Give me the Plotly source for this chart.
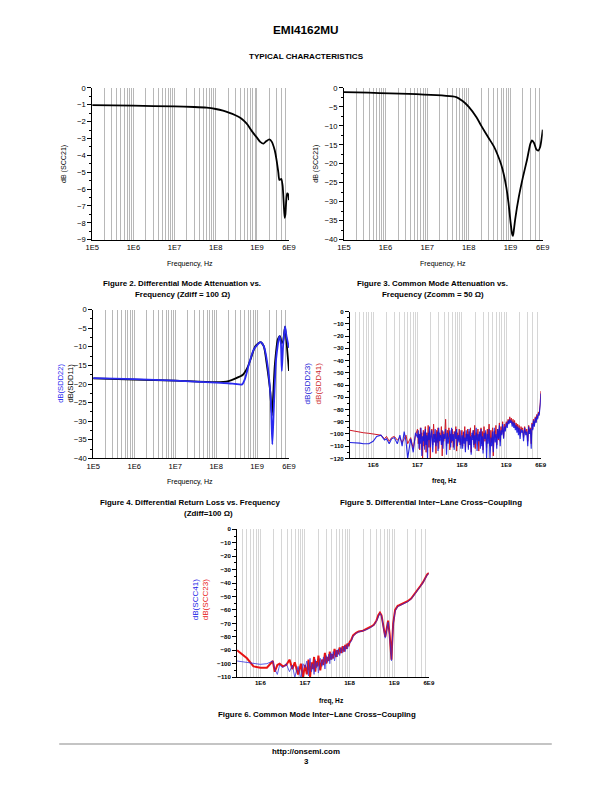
import plotly.graph_objects as go

W, H = 612, 792
# the photographed page comes out very slightly shrunk about its centre; compensate
SX, SY = 0.978, 0.99
CX, CY = 306, 396

# ---------------- data ----------------
f2_freq = [1e5, 1e6, 1e7, 3e7, 6e7, 1e8, 1.5e8, 2e8, 3e8, 4e8, 5e8, 6e8, 7e8, 8e8, 1e9,
           1.2e9, 1.45e9, 1.7e9, 2.0e9, 2.3e9, 2.7e9, 3.0e9, 3.3e9, 3.5e9, 3.9e9, 4.2e9,
           4.5e9, 4.7e9, 4.9e9, 5.1e9, 5.4e9, 5.7e9, 6e9]
f2_scc21 = [-1.02, -1.05, -1.1, -1.13, -1.17, -1.25, -1.35, -1.45, -1.62, -1.78, -1.98, -2.2,
            -2.45, -2.65, -2.95, -3.2, -3.3, -3.15, -3.05, -3.2, -3.7, -4.3, -5.0, -5.45,
            -5.4, -5.8, -7.0, -7.7, -7.5, -6.8, -6.25, -6.3, -6.65]

f3_freq = [1e5, 5e7, 7e7, 1e8, 1.5e8, 2e8, 3e8, 4e8, 5e8, 6e8, 7e8, 8e8, 9e8, 1e9, 1.1e9,
           1.15e9, 1.2e9, 1.3e9, 1.6e9, 2.0e9, 2.5e9, 3.0e9, 3.3e9, 3.7e9, 4.2e9, 4.7e9,
           5.2e9, 5.6e9, 6e9]
f3_scc21 = [-1.1, -2.4, -3.4, -5.0, -7.6, -10.0, -13.2, -15.4, -17.8, -20.2, -23.0, -26.3,
            -30.3, -35.0, -38.5, -39.0, -37.8, -34.7, -28.6, -23.5, -19.0, -14.8, -13.8,
            -14.5, -16.2, -16.5, -15.5, -13.5, -11.0]

f4_freq_11 = [1e5, 1e6, 1e7, 1e8, 2e8, 3e8, 4.5e8, 5.8e8, 6.9e8, 9.1e8, 1.2e9, 1.45e9, 1.7e9,
              2.1e9, 2.3e9, 2.7e9, 3.2e9, 3.6e9, 4.0e9, 4.3e9, 4.8e9, 5.4e9, 6e9]
f4_sdd11 = [-18.5, -18.8, -19.1, -19.5, -19.2, -18.5, -17.5, -15.6, -13.4, -9.8, -8.75, -9.8,
            -14.3, -22.3, -28.5, -15.0, -8.0, -7.1, -9.0, -8.5, -4.6, -10.7, -16.5]
f4_freq_22 = [1e5, 1e6, 1e7, 1e8, 2e8, 3e8, 4.3e8, 5e8, 6.3e8, 8.3e8, 1.2e9, 1.45e9, 1.75e9,
              2.15e9, 2.35e9, 2.55e9, 2.9e9, 3.5e9, 3.8e9, 4.0e9, 4.3e9, 4.8e9, 5.2e9, 6e9]
f4_sdd22 = [-18.4, -18.7, -19.1, -19.6, -19.8, -20.0, -20.1, -18.75, -14.7, -10.7, -8.75,
            -9.8, -14.0, -24.0, -36.2, -26.8, -13.4, -7.1, -9.0, -16.5, -9.8, -4.5, -7.1, -10.3]

f5_freq = [3e5, 4e5, 5e5, 6e5, 8e5, 1e6, 1.2e6, 1.5e6, 1.8e6, 2e6, 2.3e6, 2.6e6, 3e6, 3.5e6,
           4e6, 4.5e6, 5e6, 5.5e6, 6e6, 7e6, 8e6, 9e6,
           1.0e7, 1.04e7, 1.08e7, 1.12e7, 1.16e7, 1.2e7, 1.25e7, 1.3e7, 1.35e7, 1.4e7,
           1.45e7, 1.5e7, 1.56e7, 1.62e7, 1.68e7, 1.74e7, 1.8e7, 1.87e7, 1.94e7, 2.0e7,
           2.1e7, 2.2e7, 2.3e7, 2.4e7, 2.5e7, 2.6e7, 2.7e7, 2.8e7, 2.9e7, 3.0e7,
           3.15e7, 3.3e7, 3.45e7, 3.6e7, 3.75e7, 3.9e7, 4.1e7, 4.3e7, 4.5e7, 4.7e7,
           4.9e7, 5.1e7, 5.35e7, 5.6e7, 5.85e7, 6.1e7, 6.4e7, 6.7e7, 7.0e7, 7.3e7,
           7.6e7, 7.9e7, 8.3e7, 8.7e7, 9.1e7, 9.5e7,
           1.0e8, 1.04e8, 1.08e8, 1.12e8, 1.16e8, 1.2e8, 1.25e8, 1.3e8, 1.35e8, 1.4e8,
           1.45e8, 1.5e8, 1.56e8, 1.62e8, 1.68e8, 1.74e8, 1.8e8, 1.87e8, 1.94e8, 2.0e8,
           2.1e8, 2.2e8, 2.3e8, 2.4e8, 2.5e8, 2.6e8, 2.7e8, 2.8e8, 2.9e8, 3.0e8,
           3.15e8, 3.3e8, 3.45e8, 3.6e8, 3.75e8, 3.9e8, 4.1e8, 4.3e8, 4.5e8, 4.7e8,
           4.9e8, 5.1e8, 5.35e8, 5.6e8, 5.85e8, 6.1e8, 6.4e8, 6.7e8, 7.0e8, 7.3e8,
           7.6e8, 7.9e8, 8.3e8, 8.7e8, 9.1e8, 9.5e8,
           1.0e9, 1.05e9, 1.1e9, 1.15e9, 1.2e9, 1.25e9, 1.3e9, 1.36e9, 1.42e9, 1.48e9,
           1.54e9, 1.6e9, 1.67e9, 1.74e9, 1.81e9, 1.88e9, 1.95e9, 2.05e9, 2.15e9, 2.25e9,
           2.35e9, 2.45e9, 2.6e9, 2.75e9, 2.9e9, 3.05e9, 3.2e9, 3.35e9, 3.5e9, 3.65e9,
           3.8e9, 3.95e9, 4.1e9, 4.3e9, 4.5e9, 4.7e9, 4.9e9, 5.1e9, 5.3e9, 5.5e9,
           5.7e9, 5.85e9, 6.0e9]
f5_sdd41 = [-97, -98, -98.5, -99, -99.5, -100, -100.5, -101, -104, -102, -106, -103, -102, -105,
            -103, -107, -104, -101, -108, -103, -112, -101,
            -96, -108, -100, -113, -95, -104, -99, -120, -97, -110,
            -102, -94, -115, -99, -106, -93, -111, -98, -120, -101,
            -96, -109, -92, -104, -100, -116, -97, -107, -95, -112,
            -99, -103, -94, -118, -98, -106, -101, -88, -110, -97,
            -104, -95, -113, -100, -107, -96, -111, -98, -103, -94,
            -114, -99, -105, -96, -109, -101,
            -97, -110, -99, -106, -94, -113, -100, -104, -96, -111,
            -98, -107, -95, -115, -101, -103, -97, -109, -93, -112,
            -99, -105, -96, -114, -100, -102, -95, -108, -98, -113,
            -94, -106, -99, -111, -96, -104, -92, -110, -97, -107,
            -95, -118, -98, -103, -93, -109, -96, -105, -91, -106,
            -94, -100, -90, -103, -92, -97,
            -90, -93, -88, -91, -86, -90, -87, -92, -88, -93,
            -89, -95, -91, -96, -92, -98, -93, -100, -94, -97,
            -95, -103, -94, -99, -96, -106, -93, -98, -95, -108,
            -91, -96, -88, -93, -86, -90, -84, -87, -82, -84,
            -79, -74, -65]
f5_sdd23 = [-107, -107, -107.5, -108, -108, -106, -102, -101, -105, -104, -108, -104, -103, -108,
            -101, -110, -98, -106, -120, -104, -115, -99,
            -103, -97, -112, -100, -108, -95, -118, -102, -106, -98,
            -113, -96, -109, -101, -120, -99, -105, -94, -111, -103,
            -97, -115, -100, -107, -96, -110, -102, -98, -114, -95,
            -106, -101, -109, -97, -112, -100, -104, -96, -117, -99,
            -108, -102, -97, -111, -95, -106, -100, -113, -98, -104,
            -96, -110, -101, -107, -97, -112,
            -101, -112, -98, -108, -103, -115, -97, -106, -100, -113,
            -96, -109, -102, -117, -99, -105, -97, -111, -101, -108,
            -95, -114, -100, -106, -98, -112, -96, -110, -102, -116,
            -99, -104, -97, -120, -100, -108, -96, -120, -103, -110,
            -98, -115, -95, -107, -100, -112, -96, -104, -93, -110,
            -97, -101, -92, -104, -94, -98,
            -91, -95, -89, -92, -88, -91, -89, -94, -90, -95,
            -91, -97, -93, -99, -94, -101, -95, -104, -96, -99,
            -97, -106, -95, -101, -98, -110, -94, -100, -96, -112,
            -92, -97, -89, -94, -87, -91, -85, -88, -83, -85,
            -80, -76, -67]

f6_freq = [3e5, 5e5, 7e5, 1e6, 1.4e6, 1.7e6, 1.9e6, 2.1e6, 2.4e6, 2.7e6, 3.2e6, 3.8e6, 4.5e6,
           5.2e6, 5.9e6, 7e6, 8.1e6, 9e6,
           1.0e7, 1.1e7, 1.2e7, 1.3e7, 1.4e7, 1.5e7, 1.6e7, 1.7e7, 1.8e7, 1.9e7, 2.0e7, 2.2e7,
           2.4e7, 2.6e7, 2.8e7, 3.0e7, 3.2e7, 3.4e7, 3.6e7, 3.8e7, 4.0e7, 4.3e7, 4.6e7, 5.0e7,
           5.3e7, 5.6e7, 6.0e7, 6.5e7, 7.0e7, 7.5e7, 8.0e7, 8.5e7, 9.0e7, 9.5e7,
           1.0e8, 1.1e8, 1.2e8, 1.4e8, 1.6e8, 2e8, 2.5e8, 3e8, 3.5e8, 4e8, 4.4e8, 4.8e8, 5.2e8,
           5.7e8, 6.3e8, 6.8e8, 7.3e8, 7.9e8, 8.4e8, 8.7e8, 9.0e8, 9.5e8, 1.05e9, 1.2e9, 1.3e9,
           1.5e9, 1.7e9, 2e9, 2.4e9, 2.8e9, 3.4e9, 3.9e9, 4.4e9, 5e9, 5.5e9, 6e9]
f6_scc23 = [-90, -96, -102, -103, -103, -100, -98, -106, -101, -100, -102, -101, -97, -104, -99,
            -108, -100, -110,
            -101, -108, -97, -110, -99, -104, -95, -106, -98, -102, -94, -105, -97, -101, -92,
            -100, -95, -98, -91, -97, -93, -96, -89, -95, -90, -93, -88, -92, -87, -91, -86,
            -89, -85, -87,
            -84, -82, -79, -77, -76, -75.5, -74, -72.5, -71, -68, -64, -62, -64, -72, -80, -74,
            -68, -78, -90, -97, -85, -70, -60, -57, -56.5, -55.5, -55, -53.5, -51.5, -48.5,
            -45.5, -42, -39.5, -36, -33.5, -32.5]
f6_scc41 = [-98, -99, -100, -100.5, -100, -99, -98, -104, -108, -101, -103, -100, -106, -101,
            -110, -102, -112, -100,
            -103, -98, -109, -96, -106, -100, -108, -97, -103, -99, -107, -96, -102, -95, -104,
            -94, -99, -93, -100, -92, -97, -91, -98, -90, -95, -89, -94, -88, -92, -87, -91,
            -86, -89, -85,
            -85, -83, -79.5, -77.5, -76.5, -75.5, -74.5, -73, -71.5, -68.5, -64.5, -62.5, -64.5,
            -73, -81, -75, -69, -79, -91, -98, -86, -71, -61, -57.5, -57, -56, -55.5, -54, -52,
            -49, -46, -42.5, -40, -36.5, -34, -33]

decade_labels_a = ["1E5", "1E6", "1E7", "1E8", "1E9", "6E9"]
decade_vals_a = [1e5, 1e6, 1e7, 1e8, 1e9, 6e9]
decade_labels_b = ["1E6", "1E7", "1E8", "1E9", "6E9"]
decade_vals_b = [1e6, 1e7, 1e8, 1e9, 6e9]

for a, b, n in [(f5_freq, f5_sdd41, "41"), (f5_freq, f5_sdd23, "23"),
                (f6_freq, f6_scc23, "c23"), (f6_freq, f6_scc41, "c41")]:
    if len(a) != len(b):
        raise SystemExit("length mismatch %s: %d vs %d" % (n, len(a), len(b)))

# ---------------- helpers ----------------
FONT = "Liberation Sans, Arial, sans-serif"


def px_x(p):
    return (CX + (p - CX) / SX) / W


def px_y(p):
    return 1 - (CY + (p - CY) / SY) / H


def grid_vals(start_exp, start_mant):
    vals = []
    for e in range(start_exp, 10):
        for m in range(1, 10):
            if e == start_exp and m < start_mant:
                continue
            v = m * 10 ** e
            if v > 6e9:
                break
            vals.append(v)
    return vals


def xaxis_cfg(dom, lo, labels, lvals, gridcolor, start_exp, start_mant, anchor,
              bold=False, size=7.6):
    gv = grid_vals(start_exp, start_mant)
    txt = []
    for v in gv:
        t = ""
        for lv, lab in zip(lvals, labels):
            if abs(v - lv) / lv < 1e-6:
                t = lab
        txt.append(t)
    return dict(type="log", domain=dom, range=[lo, 9.77815], tickvals=gv, ticktext=txt,
                showgrid=True, gridcolor=gridcolor, gridwidth=1, zeroline=False,
                showline=True, linecolor="black", linewidth=1, ticks="", anchor=anchor,
                tickfont=dict(family=FONT, size=size, color="black",
                              weight="bold" if bold else "normal"),
                fixedrange=True)


def yaxis_cfg(dom, rng, dtick, minor, anchor, bold=False, size=7.6):
    return dict(domain=dom, range=rng, dtick=dtick, tick0=0, showgrid=False, zeroline=False,
                showline=True, linecolor="black", linewidth=1, ticks="outside", ticklen=4,
                tickcolor="black", anchor=anchor,
                minor=dict(dtick=minor, ticks="outside", ticklen=2, tickcolor="black",
                           showgrid=False),
                tickfont=dict(family=FONT, size=size, color="black",
                              weight="bold" if bold else "normal"),
                fixedrange=True)


fig = go.Figure()

# chart 1 (Fig 2)
fig.add_trace(go.Scatter(x=f2_freq, y=f2_scc21, mode="lines",
                         line=dict(color="black", width=1.8, shape="spline", smoothing=0.6),
                         xaxis="x", yaxis="y", showlegend=False))
# chart 2 (Fig 3)
fig.add_trace(go.Scatter(x=f3_freq, y=f3_scc21, mode="lines",
                         line=dict(color="black", width=1.8, shape="spline", smoothing=0.6),
                         xaxis="x2", yaxis="y2", showlegend=False))
# chart 3 (Fig 4)
fig.add_trace(go.Scatter(x=f4_freq_11, y=f4_sdd11, mode="lines",
                         line=dict(color="black", width=1.8, shape="spline", smoothing=0.6),
                         xaxis="x3", yaxis="y3", showlegend=False))
fig.add_trace(go.Scatter(x=f4_freq_22, y=f4_sdd22, mode="lines",
                         line=dict(color="#2a2af0", width=1.8, shape="spline", smoothing=0.6),
                         xaxis="x3", yaxis="y3", showlegend=False))
# chart 4 (Fig 5)
fig.add_trace(go.Scatter(x=f5_freq, y=f5_sdd41, mode="lines", line=dict(color="#d01c28", width=1),
                         xaxis="x4", yaxis="y4", showlegend=False))
fig.add_trace(go.Scatter(x=f5_freq, y=f5_sdd23, mode="lines", line=dict(color="#1414e0", width=1.1),
                         xaxis="x4", yaxis="y4", showlegend=False, opacity=0.9))
# chart 5 (Fig 6)
fig.add_trace(go.Scatter(x=f6_freq, y=f6_scc23, mode="lines", line=dict(color="#e81414", width=2),
                         xaxis="x5", yaxis="y5", showlegend=False))
fig.add_trace(go.Scatter(x=f6_freq, y=f6_scc41, mode="lines", line=dict(color="#2828e0", width=1),
                         xaxis="x5", yaxis="y5", showlegend=False, opacity=0.75))

G1 = "#b8b8b8"
G2 = "#d6d6d6"
lo3 = 5.4771

fig.update_layout(
    width=W, height=H, autosize=False, margin=dict(l=0, r=0, t=0, b=0),
    paper_bgcolor="white", plot_bgcolor="white",
    xaxis=xaxis_cfg([px_x(92), px_x(289)], 5, decade_labels_a, decade_vals_a, G1, 5, 1, "y"),
    yaxis=yaxis_cfg([px_y(240), px_y(88)], [-9, 0], 1, 0.5, "x"),
    xaxis2=xaxis_cfg([px_x(344), px_x(543)], 5, decade_labels_a, decade_vals_a, G1, 5, 1, "y2"),
    yaxis2=yaxis_cfg([px_y(240), px_y(88)], [-40, 0], 5, 2.5, "x2"),
    xaxis3=xaxis_cfg([px_x(93), px_x(289)], 5, decade_labels_a, decade_vals_a, G1, 5, 1, "y3"),
    yaxis3=yaxis_cfg([px_y(459), px_y(310)], [-40, 0], 5, 2.5, "x3"),
    xaxis4=xaxis_cfg([px_x(350), px_x(541)], lo3, decade_labels_b, decade_vals_b, G2, 5, 3, "y4",
                     bold=True, size=6.1),
    yaxis4=yaxis_cfg([px_y(459), px_y(312)], [-120, 0], 10, 5, "x4", bold=True, size=6.1),
    xaxis5=xaxis_cfg([px_x(237), px_x(429)], lo3, decade_labels_b, decade_vals_b, G2, 5, 3, "y5",
                     bold=True, size=6.1),
    yaxis5=yaxis_cfg([px_y(678), px_y(530)], [-110, 0], 10, 5, "x5", bold=True, size=6.1),
)

ann = []


def text(x, y, s, size=8, bold=False, angle=0, color="black", xanchor="center"):
    ann.append(dict(x=px_x(x), y=px_y(y), xref="paper", yref="paper", text=s, showarrow=False,
                    xanchor=xanchor, yanchor="middle", textangle=angle,
                    font=dict(family=FONT, size=size, color=color,
                              weight="bold" if bold else "normal")))


text(306, 30, "EMI4162MU", size=11.8, bold=True)
text(306, 57, "TYPICAL CHARACTERISTICS", size=8.1, bold=True)

text(190, 264, "Frequency, Hz", size=7.1)
text(443, 264, "Frequency, Hz", size=7.1)
text(190, 483, "Frequency, Hz", size=7.1)
text(445, 482, "freq, Hz", size=6.6, bold=True)
text(332, 702, "freq, Hz", size=6.6, bold=True)

text(64, 164, "dB (SCC21)", size=7.1, angle=-90)
text(316, 164, "dB (SCC21)", size=7.1, angle=-90)
text(65, 384, "<span style='color:#2a2af0'>dB(SDD22)</span><br>dB(SDD11)", size=7.6, angle=-90)
text(313, 384, "<span style='color:#1a1ad6'>dB(SDD23)</span><br><span style='color:#cc1f2a'>dB(SDD41)</span>",
     size=8.1, angle=-90)
text(201, 600, "<span style='color:#1a1ae6'>dB(SCC41)</span><br><span style='color:#e81818'>dB(SCC23)</span>",
     size=8.1, angle=-90)

text(182, 284, "Figure 2. Differential Mode Attenuation vs.", size=7.9, bold=True)
text(182, 295, "Frequency (Zdiff = 100 Ω)", size=7.9, bold=True)
text(433, 284, "Figure 3. Common Mode Attenuation vs.", size=7.9, bold=True)
text(433, 295, "Frequency (Zcomm = 50 Ω)", size=7.9, bold=True)
text(190, 503, "Figure 4. Differential Return Loss vs. Frequency", size=7.9, bold=True)
text(208, 514, "(Zdiff=100 Ω)", size=7.9, bold=True)
text(431, 503, "Figure 5. Differential Inter−Lane Cross−Coupling", size=7.9, bold=True)
text(317, 715, "Figure 6. Common Mode Inter−Lane Cross−Coupling", size=7.9, bold=True)

text(306, 752, "http://onsemi.com", size=7.9, bold=True)
text(306, 763, "3", size=7.9, bold=True)

fig.update_layout(annotations=ann, shapes=[
    dict(type="line", xref="paper", yref="paper", x0=px_x(59), x1=px_x(552), y0=px_y(745),
         y1=px_y(745), line=dict(color="#b0b0b0", width=1.5))])

fig.write_html("out.html", config={"displayModeBar": False},
               post_script="document.body.style.margin='0';document.body.style.overflow='hidden';"
                           "document.documentElement.style.overflow='hidden';")
